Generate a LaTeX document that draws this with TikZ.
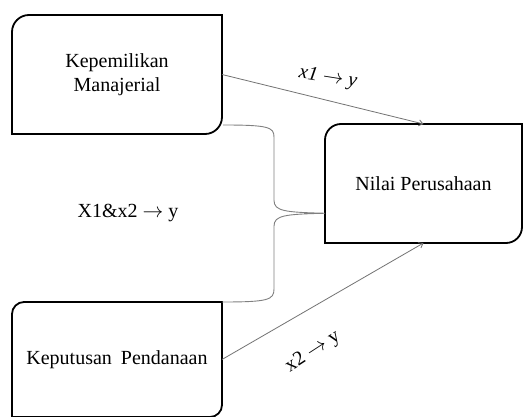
\documentclass[tikz,border=0pt]{standalone}
\usepackage{fontspec}
\setmainfont{Liberation Serif}
\usetikzlibrary{calc,arrows.meta}
\newcommand{\rar}{\ensuremath{\rightarrow}}
\begin{document}
\begin{tikzpicture}[x=1pt,y=1pt,
  txt/.style={font=\fontsize{20}{24}\selectfont, align=center, inner sep=0pt},
  boxnode/.style={rectangle, outer sep=0pt, inner sep=0pt, font=\fontsize{20}{24}\selectfont, align=center},
  boxline/.style={draw=black, line width=1.8pt},
  link/.style={draw=black!55, line width=0.8pt},
  arr/.style={link, -{Straight Barb[length=4pt,width=6pt]}},
  brace/.style={draw=black!50, line width=0.9pt}]
\useasboundingbox (0,0) rectangle (528,416);
\fill[white] (0,0) rectangle (528,416);
% boxes
\node[boxnode, minimum width=210pt, minimum height=119pt] (b1) at (117,341.5) {\raisebox{-3pt}{\begin{tabular}{@{}c@{}}Kepemilikan\\Manajerial\end{tabular}}};
\node[boxnode, minimum width=197pt, minimum height=119pt] (b2) at (423.5,232.5) {Nilai Perusahaan};
\node[boxnode, minimum width=210pt, minimum height=115pt] (b3) at (117,56.5) {\raisebox{-5pt}{Keputusan\hspace{0.45em}Pendanaan}};
\foreach \b/\r in {b1/17,b2/16,b3/12} {
  \draw[boxline] (\b.north east) -- ($(\b.north west)+(\r,0)$)
    arc[start angle=90,end angle=180,radius=\r] -- (\b.south west)
    -- ($(\b.south east)+(-\r,0)$) arc[start angle=270,end angle=360,radius=\r] -- cycle;
}
% arrows
\draw[arr] (b1.east) -- (b2.north);
\draw[arr] (b3.east) -- (b2.south);
% brace
\coordinate (bt) at ($(b1.south east)+(1,9)$);
\coordinate (bb) at (b3.north east);
\coordinate (tip) at ($(b2.south west)!0.25!(b2.north west)$);
\draw[brace] (bt) .. controls ($(bt)+(45,0)$) and ($(bt)+(51,-2)$) .. ($(bt)+(51,-12)$)
  -- ($(tip)+(-51,13)$) .. controls ($(tip)+(-51,2)$) and ($(tip)+(-40,1)$) .. (tip)
  .. controls ($(tip)+(-40,-1)$) and ($(tip)+(-51,-2)$) .. ($(tip)+(-51,-13)$)
  -- ($(bb)+(52,13)$) .. controls ($(bb)+(52,2)$) and ($(bb)+(46,0)$) .. (bb);
% labels
\node[txt, rotate=-9] (l1) at (328,338) {\itshape x1 \rar{} y};
\node[txt] (l2) at (128,203) {X1\&x2 \rar{} y};
\node[txt, rotate=33] (l3) at (313,64) {x2 \rar{} y};
\end{tikzpicture}
\end{document}
